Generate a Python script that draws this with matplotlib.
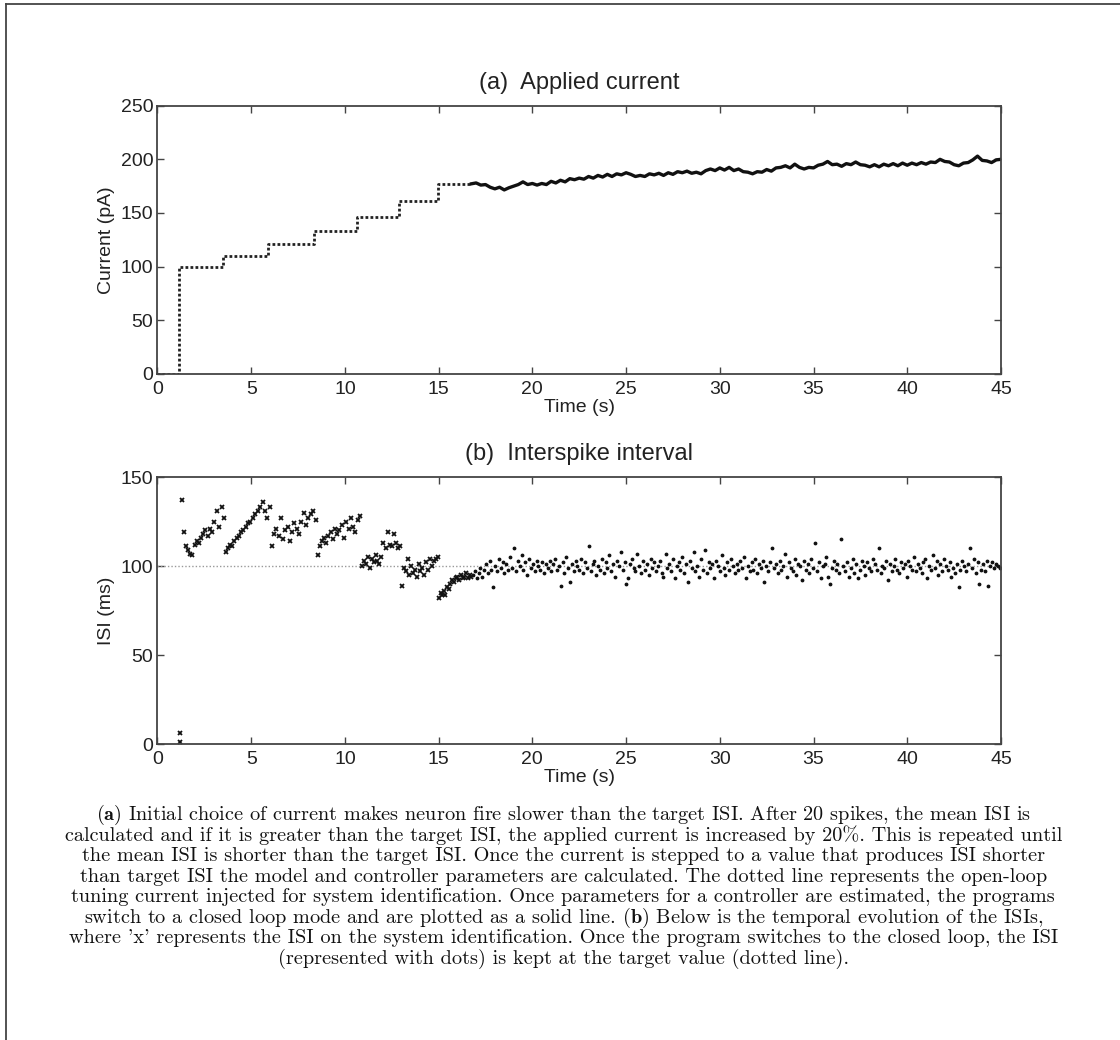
import numpy as np
import matplotlib.pyplot as plt
from matplotlib.lines import Line2D

plt.rcParams['font.family'] = ['Liberation Sans', 'DejaVu Sans']
plt.rcParams['mathtext.fontset'] = 'cm'

# open-loop tuning: current steps (s, pA)
step_times = [0, 1.13, 3.50, 5.89, 8.37, 10.65, 12.90, 14.94, 16.75]
step_current = [0, 100, 110, 121, 133.1, 146.4, 161.1, 177.2]

# closed-loop current, sampled every 0.25 s from 16.75 s to 45 s
closed_current = [
    177.2, 178, 176, 176.5, 174, 172.5, 174, 171.5, 173.5, 175, 176.5, 179,
    176.5, 177.5, 176, 177.5, 176.5, 179.5, 178, 180.5, 179, 182, 181, 182.5,
    181.5, 184, 182.5, 185, 183.5, 186, 184, 186.5, 185.5, 187.5, 186, 184,
    185, 184, 186.5, 185.5, 187, 185, 187.5, 186, 188.5, 187.5, 189, 187,
    188, 186.5, 189.5, 191, 189.5, 192, 190, 192.5, 189.5, 191, 188.5, 188,
    186.5, 188.5, 188, 190.5, 189, 192, 192.5, 194, 192, 195.5, 192.5, 191,
    192.5, 192, 194.5, 195.5, 198, 195, 195.5, 193.5, 196, 195, 197.5, 195,
    194.5, 193, 195, 193, 195.5, 194, 196, 194, 196.5, 194.5, 196.5, 195,
    197, 195.5, 197.5, 197, 200, 198, 197.5, 195, 194, 196.5, 197, 199.5,
    203, 199, 198.5, 197, 199.5, 200,
]

# interspike intervals (ms) during system identification, 20 spikes per step
isi_open = [
    6, 1,
    137, 119, 111, 109, 107, 106, 112, 114, 113, 116, 118, 120, 117, 121, 119, 125, 131, 122, 133, 127,
    108, 110, 112, 111, 114, 116, 117, 119, 120, 122, 124, 125, 127, 129, 131, 133, 136, 131, 127, 133,
    111, 118, 121, 117, 127, 115, 120, 122, 114, 119, 124, 121, 118, 125, 130, 123, 127, 129, 131, 126,
    106, 111, 114, 116, 113, 117, 119, 115, 121, 118, 120, 123, 116, 125, 121, 127, 122, 119, 126, 128,
    100, 103, 101, 105, 99, 104, 102, 106, 103, 101, 105, 113, 110, 119, 112, 111, 118, 113, 110, 111,
    89, 99, 97, 104, 95, 100, 96, 98, 94, 101, 97, 99, 95, 102, 98, 104, 100, 103, 104, 105,
    82, 85, 84, 86, 84, 88, 87, 90, 92, 91, 93, 94, 92, 95, 93, 94, 96, 93, 95, 94,
]

# interspike intervals (ms) under closed-loop control
isi_closed = [
    95, 97, 93, 96, 99, 94, 98, 101, 96, 103, 98, 88, 100, 97, 104, 99, 102, 96, 101, 98,
    105, 99, 110, 97, 103, 100, 106, 98, 102, 95, 104, 99, 101, 97, 103, 100, 98, 102, 96, 101,
    99, 103, 97, 101, 104, 98, 100, 89, 102, 96, 105, 99, 91, 101, 97, 103, 100, 98, 104, 96,
    102, 99, 111, 97, 101, 103, 95, 100, 98, 104, 96, 102, 99, 106, 97, 101, 94, 103, 100, 108,
    98, 102, 90, 93, 101, 104, 99, 97, 107, 100, 96, 103, 98, 101, 95, 104, 99, 102, 97, 100,
    103, 96, 94, 107, 99, 101, 97, 104, 93, 100, 102, 98, 105, 96, 101, 91, 103, 99, 108, 97,
    100, 94, 104, 98, 109, 96, 102, 99, 101, 93, 103, 100, 97, 106, 99, 95, 102, 98, 104, 100,
    96, 101, 98, 103, 99, 105, 93, 100, 97, 102, 98, 104, 96, 101, 99, 103, 91, 100, 97, 102,
    110, 99, 101, 96, 103, 98, 100, 107, 94, 102, 99, 97, 104, 95, 101, 100, 92, 103, 98, 101,
    96, 104, 99, 113, 97, 102, 93, 100, 101, 105, 94, 90, 99, 103, 98, 101, 96, 115, 100, 97,
    102, 94, 99, 104, 96, 101, 93, 98, 103, 100, 95, 102, 99, 97, 104, 101, 98, 110, 96, 100,
    99, 103, 92, 101, 97, 100, 104, 98, 96, 102, 99, 101, 94, 103, 100, 98, 105, 97, 101, 99,
    96, 102, 104, 93, 100, 98, 106, 99, 103, 95, 101, 97, 104, 100, 98, 102, 94, 99, 96, 101,
    88, 98, 103, 100, 97, 101, 110, 99, 104, 96, 102, 90, 98, 101, 97, 103, 89, 100, 102, 99,
    101, 100, 99,
]

first_spike = 1.17
target_isi = 100

caption = [
    r"$\mathbf{(a)}$ Initial choice of current makes neuron fire slower than the target ISI. After 20 spikes, the mean ISI is",
    "calculated and if it is greater than the target ISI, the applied current is increased by 20%. This is repeated until",
    "the mean ISI is shorter than the target ISI. Once the current is stepped to a value that produces ISI shorter",
    "than target ISI the model and controller parameters are calculated. The dotted line represents the open-loop",
    "tuning current injected for system identification. Once parameters for a controller are estimated, the programs",
    r"switch to a closed loop mode and are plotted as a solid line. $\mathbf{(b)}$ Below is the temporal evolution of the ISIs,",
    "where 'x' represents the ISI on the system identification. Once the program switches to the closed loop, the ISI",
    "(represented with dots) is kept at the target value (dotted line).",
]

# spike times follow from the intervals
isi_all = np.array(isi_open + isi_closed, dtype=float)
spike_t = first_spike + np.cumsum(isi_all) / 1000.0
t_open = spike_t[:len(isi_open)]
t_closed = spike_t[len(isi_open):]
t_current = np.linspace(16.75, 45, len(closed_current))

fig = plt.figure(figsize=(11.2, 10.4), dpi=100)
ax_a = fig.add_axes([0.1406, 0.6404, 0.7531, 0.2580])
ax_b = fig.add_axes([0.1406, 0.2846, 0.7531, 0.2567])

tc = '#222222'
ec = '#444444'

ax_a.step(step_times, step_current + [step_current[-1]], where='post',
          color='#222222', lw=2, linestyle=(0, (1, 0.8)))
ax_a.plot(t_current, closed_current, color='#111111', lw=2.4)
ax_a.set_xlim(0, 45)
ax_a.set_ylim(0, 250)
ax_a.set_yticks([0, 50, 100, 150, 200, 250])
ax_a.set_title('(a)  Applied current', fontsize=17, color=tc, pad=12)
ax_a.set_ylabel('Current (pA)', fontsize=14, color=tc, labelpad=4)

ax_b.axhline(target_isi, color='#999999', lw=1, linestyle=(0, (1, 1.5)))
ax_b.plot(t_open, isi_open, 'x', color='#111111', ms=3.5, mew=1.3)
ax_b.plot(t_closed, isi_closed, '.', color='#111111', ms=3.5)
ax_b.set_xlim(0, 45)
ax_b.set_ylim(0, 150)
ax_b.set_yticks([0, 50, 100, 150])
ax_b.set_title('(b)  Interspike interval', fontsize=17, color=tc, pad=12)
ax_b.set_ylabel('ISI (ms)', fontsize=14, color=tc, labelpad=4)

for ax in (ax_a, ax_b):
    ax.set_xticks(range(0, 46, 5))
    ax.set_xlabel('Time (s)', fontsize=14, color=tc, labelpad=1)
    ax.tick_params(direction='in', top=True, right=True, length=5, width=1,
                   labelsize=14, color=ec, labelcolor=tc)
    ax.tick_params(axis='x', pad=5)
    ax.tick_params(axis='y', pad=3)
    for s in ax.spines.values():
        s.set_color(ec)
        s.set_linewidth(1.3)

# caption lines
for i, line in enumerate(caption):
    fig.text(0.503, 1 - (815 + i * 20.5) / 1040, line, ha='center', va='center',
             fontsize=14.6, family=['cmr10', 'DejaVu Serif'], color='#111111')

# page frame on the left and top
fig.add_artist(Line2D([5.5 / 1120, 5.5 / 1120], [0, 1 - 3.5 / 1040],
                      transform=fig.transFigure, color='#444444', lw=1.3))
fig.add_artist(Line2D([5.5 / 1120, 1], [1 - 3.5 / 1040, 1 - 3.5 / 1040],
                      transform=fig.transFigure, color='#444444', lw=1.3))

fig.savefig('out.png', dpi=100)
